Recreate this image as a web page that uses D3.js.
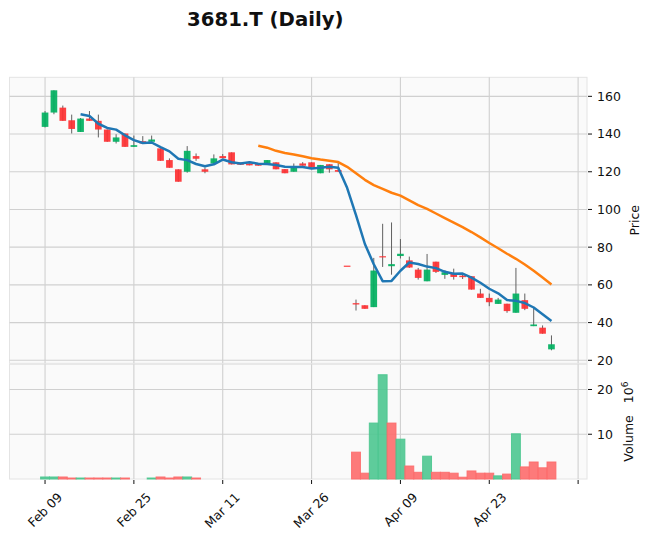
<!DOCTYPE html>
<html><head><meta charset="utf-8">
<script src="https://cdn.jsdelivr.net/npm/d3@7/dist/d3.min.js"></script>
<style>
body{margin:0;background:#fff}
text{font-family:"DejaVu Sans",sans-serif;fill:#101010}
</style>
</head><body>
<svg id="c" width="651" height="543"></svg>
<script>
// ---- data ----
const title = "3681.T (Daily)";
const opens  = [143.8,151.4,154.0,147.3,141.1,148.2,147.0,142.4,135.9,140.3,
                133.2,136.2,135.9,132.4,126.2,121.3,120.0,128.3,121.3,124.4,
                128.3,130.3,124.8,124.4,124.1,124.1,125.0,121.4,120.0,124.4,
                125.0,119.2,124.0,120.9,70.2,50.3,49.2,48.2,75.2,69.9,
                75.3,73.0,68.1,61.9,72.3,65.3,66.3,64.9,64.6,55.4,
                53.1,49.9,50.0,45.2,51.9,38.1,37.3,25.8];
const highs  = [152.2,163.2,155.1,150.3,148.5,152.2,150.3,142.4,139.9,140.3,
                139.2,138.9,139.2,132.4,127.1,121.3,133.6,129.7,122.3,129.2,
                129.4,130.3,124.8,124.4,124.1,126.2,125.0,121.4,124.4,125.1,
                125.0,123.6,124.0,124.8,70.2,52.2,49.2,74.3,92.4,93.1,
                84.3,75.0,69.0,76.4,72.3,67.8,68.6,66.3,64.6,57.9,
                55.4,53.1,50.0,69.0,55.4,47.8,38.5,33.2];
const lows   = [143.5,150.5,147.0,140.3,141.1,147.0,138.2,135.9,135.0,133.2,
                133.2,135.0,135.9,125.8,122.1,114.7,119.5,125.8,119.2,124.4,
                127.2,123.9,123.7,123.4,123.2,124.1,121.3,119.2,120.0,123.2,
                122.3,119.2,119.5,120.0,70.2,46.4,47.3,48.2,69.5,65.4,
                74.0,69.0,62.8,61.9,66.3,63.2,62.8,63.1,57.5,53.1,
                48.7,49.9,45.2,45.2,46.6,38.1,34.1,25.3];
const closes = [151.4,163.2,147.0,142.7,148.2,147.0,142.4,135.9,138.2,133.2,
                134.1,135.0,137.1,125.8,122.1,114.7,131.1,126.9,120.0,127.1,
                127.2,123.9,123.7,123.4,123.2,126.2,121.3,119.2,122.6,123.2,
                122.3,123.6,121.3,120.0,70.2,49.6,47.3,67.6,75.1,71.0,
                76.5,69.2,63.7,68.1,66.9,66.7,64.2,64.1,57.5,53.1,
                50.8,52.2,46.1,55.4,47.3,39.0,34.1,28.5];
// volume in millions
const volumes = [0.45,0.45,0.45,0.22,0.22,0.22,0.22,0.22,0.22,0.22,
                 0,0,0.22,0.45,0.22,0.45,0.45,0.22,0,0,
                 0,0,0,0,0,0,0,0,0,0,
                 0,0,0,0,0,6.0,1.3,12.5,23.3,12.5,
                 8.9,2.9,1.5,5.1,1.5,1.5,1.3,0.4,1.8,1.3,
                 1.3,0.7,1.1,10.1,2.7,3.8,2.5,3.8];
const tickIndex  = [0,10,20,30,40,50,60];
const tickLabels = ["Feb 09","Feb 25","Mar 11","Mar 26","Apr 09","Apr 23",""];
const priceTicks = [20,40,60,80,100,120,140,160];
const volTicks   = [10,20];
const mavPeriods = [5,25];
const mavColors  = ["#1f77b4","#ff7f0e"];

// ---- layout ----
const L = 9.5, R = 587;
const pTop = 77.3, pBot = 363.3, vTop = 364.3, vBot = 479;
const upC = "#00b060", dnC = "#fe3032", wickC = "#606060";
const vUp = "#4dc790", vDn = "#fd6b6c";
const gridC = "#d0d0d0", faceC = "#fafafa", edgeC = "#e4e4e4";

const n = closes.length;
const svg = d3.select("#c");
const x = d3.scaleLinear().domain([-4, n - 1 + 4]).range([L, R]);
const step = x(1) - x(0);
const lo = d3.min(lows), hi = d3.max(highs), pad = 0.05 * (hi - lo);
const y = d3.scaleLinear().domain([lo - pad, hi + pad]).range([pBot, pTop]);
const yv = d3.scaleLinear().domain([0, 1.1 * d3.max(volumes)]).range([vBot, vTop]);

// panels
svg.append("rect").attr("x", L).attr("y", pTop).attr("width", R - L).attr("height", pBot - pTop)
  .attr("fill", faceC).attr("stroke", edgeC);
svg.append("rect").attr("x", L).attr("y", vTop).attr("width", R - L).attr("height", vBot - vTop)
  .attr("fill", faceC).attr("stroke", edgeC);

// grid
const g = svg.append("g").attr("stroke", gridC).attr("stroke-width", 1.1);
tickIndex.forEach(t => {
  g.append("line").attr("x1", x(t)).attr("x2", x(t)).attr("y1", pTop).attr("y2", pBot);
  g.append("line").attr("x1", x(t)).attr("x2", x(t)).attr("y1", vTop).attr("y2", vBot);
});
priceTicks.forEach(t => g.append("line").attr("x1", L).attr("x2", R).attr("y1", y(t)).attr("y2", y(t)));
volTicks.forEach(t => g.append("line").attr("x1", L).attr("x2", R).attr("y1", yv(t)).attr("y2", yv(t)));

// candles
const idx = d3.range(n);
const cw = 0.75 * step;
svg.append("g").selectAll("line").data(idx).join("line")
  .attr("x1", i => x(i)).attr("x2", i => x(i))
  .attr("y1", i => y(highs[i])).attr("y2", i => y(lows[i]))
  .attr("stroke", wickC).attr("stroke-width", 1);
svg.append("g").selectAll("rect").data(idx).join("rect")
  .attr("x", i => x(i) - cw / 2).attr("width", cw)
  .attr("y", i => y(Math.max(opens[i], closes[i])))
  .attr("height", i => Math.max(1.2, Math.abs(y(opens[i]) - y(closes[i]))))
  .attr("fill", i => opens[i] < closes[i] ? upC : dnC)
  .attr("fill-opacity", 0.92);

// moving averages
mavPeriods.forEach((p, k) => {
  const pts = [];
  for (let i = p - 1; i < n; i++) pts.push([i, d3.mean(closes.slice(i - p + 1, i + 1))]);
  svg.append("path").datum(pts)
    .attr("d", d3.line().x(d => x(d[0])).y(d => y(d[1])))
    .attr("fill", "none").attr("stroke", mavColors[k]).attr("stroke-width", 2.5)
    .attr("stroke-linejoin", "round");
});

// volume (coloured by close vs previous close)
const vcol = idx.map(i => i === 0 ? vUp : (closes[i - 1] < closes[i] ? vUp : vDn));
svg.append("g").selectAll("rect").data(idx.filter(i => volumes[i] > 0)).join("rect")
  .attr("x", i => x(i) - step / 2).attr("width", step)
  .attr("y", i => yv(volumes[i])).attr("height", i => vBot - yv(volumes[i]))
  .attr("fill", i => vcol[i]).attr("fill-opacity", 0.9)
  .attr("stroke", i => vcol[i]).attr("stroke-opacity", 0.9).attr("stroke-width", 1);

// right axes
const ax = svg.append("g");
priceTicks.forEach(t => {
  ax.append("line").attr("x1", R + 1).attr("x2", R + 5).attr("y1", y(t)).attr("y2", y(t)).attr("stroke", "#101010");
  ax.append("text").attr("x", R + 10).attr("y", y(t)).attr("dy", "0.35em").attr("font-size", 12.5).text(t);
});
volTicks.forEach(t => {
  ax.append("line").attr("x1", R + 1).attr("x2", R + 5).attr("y1", yv(t)).attr("y2", yv(t)).attr("stroke", "#101010");
  ax.append("text").attr("x", R + 10).attr("y", yv(t)).attr("dy", "0.35em").attr("font-size", 12.5).text(t);
});
// x axis
tickIndex.forEach((t, k) => {
  ax.append("line").attr("x1", x(t)).attr("x2", x(t)).attr("y1", vBot + 1).attr("y2", vBot + 5).attr("stroke", "#101010");
  if (tickLabels[k]) {
    ax.append("text").attr("transform", `translate(${x(t) + 18},${vBot + 19}) rotate(-45)`)
      .attr("text-anchor", "end").attr("font-size", 12.5).text(tickLabels[k]);
  }
});

// axis labels
svg.append("text").attr("transform", `translate(${639},${(pTop + pBot) / 2}) rotate(-90)`)
  .attr("text-anchor", "middle").attr("font-size", 12.5).text("Price");
const vl = svg.append("text").attr("transform", `translate(${633},${(vTop + vBot) / 2}) rotate(-90)`)
  .attr("text-anchor", "middle").attr("font-size", 12.5);
vl.append("tspan").text("Volume\u00a0\u00a0\u00a010");
vl.append("tspan").attr("font-size", 9).attr("dy", "-0.55em").text("6");

// title
svg.append("text").attr("x", 265.3).attr("y", 26).attr("text-anchor", "middle")
  .attr("font-size", 19.7).attr("font-weight", "bold").text(title);
</script>
</body></html>
